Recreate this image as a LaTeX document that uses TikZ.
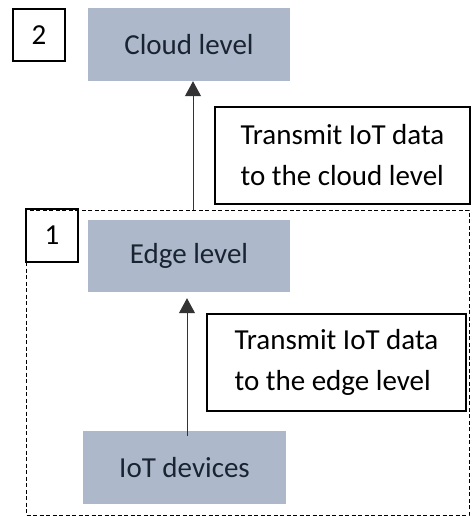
\documentclass[tikz,border=0pt]{standalone}
\usepackage{fontspec}
\setmainfont{Carlito}
\usetikzlibrary{arrows.meta}

\definecolor{levelfill}{HTML}{ADB9CA}
\definecolor{leveltext}{HTML}{1A2331}

\tikzset{
  level/.style={fill=levelfill, text=leveltext, inner sep=0pt,
    minimum width=202pt, minimum height=73pt},
  tag/.style={draw, line width=1.3pt, inner sep=0pt,
    minimum width=52pt, minimum height=52pt},
  note/.style={draw, line width=1.3pt, inner sep=0pt, align=left,
    minimum height=97pt},
  uplink/.style={draw=black!80, line width=1pt,
    -{Triangle[width=16pt,length=15pt]}},
}

\begin{document}
\begin{tikzpicture}[x=1pt, y=-1pt, font=\fontsize{29}{41}\selectfont]
		\useasboundingbox (0,0) rectangle (471,516);
		% edge zone
		\draw[dashed, dash pattern=on 4pt off 2.5pt, line width=1pt] (26,210) rectangle (469,515);
		% levels
		\node[level] (cloud) at (189,44.5) {Cloud level};
		\node[level, minimum height=72pt] (edge) at (189,256) {Edge level};
		\node[level, minimum width=203pt] (devices) at (184.5,467.5) {IoT devices};
		% numbers
		\node[tag] (num2) at (39,35) {2};
		\node[tag, minimum height=53pt] (num1) at (52,235.5) {1};
		% notes
		\node[note, minimum width=255pt] (sendcloud) at (342.5,155.5)
			{Transmit IoT data\\to the cloud level};
		\node[note, minimum width=259pt] (sendedge) at (336.5,362.5)
			{Transmit IoT data\\to the edge level};
		% links
		\coordinate (zonetop) at (193,210);
		\draw[uplink] (zonetop) -- (cloud.south -| zonetop);
		\draw[uplink, shorten >=6pt] ([xshift=2.5pt,yshift=-5pt]devices.north) -- ([xshift=-2pt]edge.south);
	\end{tikzpicture}
\end{document}
